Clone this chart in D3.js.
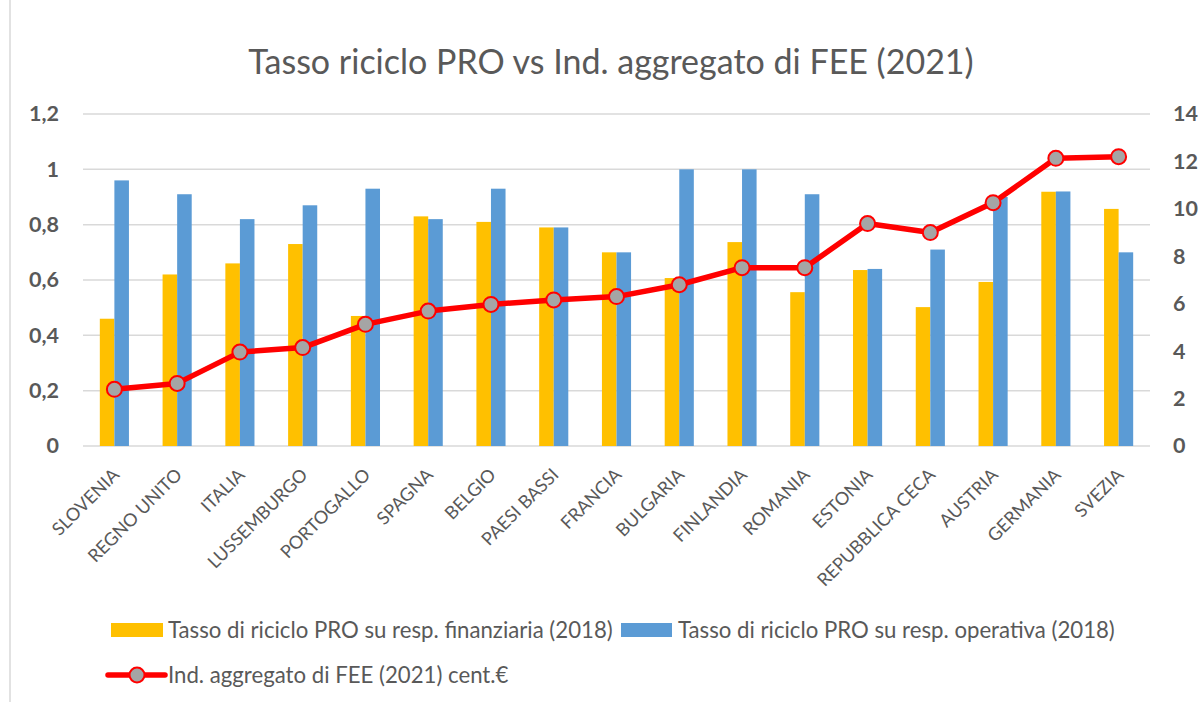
<!DOCTYPE html>
<html><head><meta charset="utf-8">
<script src="https://cdn.jsdelivr.net/npm/d3@7"></script>
<style>body{margin:0;background:#fff}svg{display:block}</style>
</head><body>
<svg id="c" width="1200" height="702"></svg>
<script>
const categories = ["SLOVENIA","REGNO UNITO","ITALIA","LUSSEMBURGO","PORTOGALLO","SPAGNA","BELGIO","PAESI BASSI","FRANCIA","BULGARIA","FINLANDIA","ROMANIA","ESTONIA","REPUBBLICA CECA","AUSTRIA","GERMANIA","SVEZIA"];
const finanziaria = [0.46,0.62,0.66,0.73,0.47,0.83,0.81,0.79,0.70,0.607,0.737,0.556,0.636,0.502,0.593,0.919,0.857];
const operativa   = [0.96,0.91,0.82,0.87,0.93,0.82,0.93,0.79,0.70,1.0,1.0,0.91,0.64,0.71,0.90,0.92,0.70];
const fee = [2.39,2.64,3.96,4.15,5.13,5.69,5.97,6.16,6.30,6.80,7.52,7.52,9.38,9.0,10.26,12.13,12.2];
const leftTicks = [0,0.2,0.4,0.6,0.8,1,1.2];
const rightTicks = [0,2,4,6,8,10,12,14];
const seriesNames = ["Tasso di riciclo PRO su resp. finanziaria (2018)","Tasso di riciclo PRO su resp. operativa (2018)","Ind. aggregato di FEE (2021) cent.€"];
const title = "Tasso riciclo PRO vs Ind. aggregato di FEE (2021)";

const svg = d3.select("#c");
const font = "Lato, 'Open Sans', sans-serif";
const grey = "#595959";
const yellow = "#FFC000", blue = "#5B9BD5", red = "#FF0000", markerFill = "#A5A5A5";

const x0 = 83, x1 = 1150, yTop = 114, yBot = 446;
const x = d3.scaleBand().domain(categories).range([x0, x1]).paddingInner(0).paddingOuter(0);
const yL = d3.scaleLinear().domain([0,1.2]).range([yBot, yTop]);
const yR = d3.scaleLinear().domain([0,14]).range([yBot, yTop]);
const barW = x.bandwidth()*0.232;

// frame
svg.append("line").attr("x1",10).attr("x2",10).attr("y1",0).attr("y2",702).attr("stroke","#d9d9d9").attr("stroke-width",1.5);

// title
svg.append("text").attr("x",611).attr("y",74).attr("text-anchor","middle")
  .attr("font-family",font).attr("font-size",34).attr("fill",grey).text(title);

// gridlines
svg.append("g").selectAll("line").data(leftTicks).join("line")
  .attr("x1",x0).attr("x2",x1).attr("y1",d=>yL(d)).attr("y2",d=>yL(d))
  .attr("stroke","#d9d9d9").attr("stroke-width",1.5);

// left axis
const fmt = d => String(d).replace(".",",");
const gL = svg.append("g").attr("transform",`translate(${x0},0)`)
  .call(d3.axisLeft(yL).tickValues(leftTicks).tickFormat(fmt).tickSize(0).tickPadding(24));
gL.select(".domain").remove();
gL.selectAll("text").attr("font-family",font).attr("font-size",21.5).attr("font-weight","bold").attr("fill",grey);

const gR = svg.append("g").attr("transform",`translate(${x1},0)`)
  .call(d3.axisRight(yR).tickValues(rightTicks).tickSize(0).tickPadding(23));
gR.select(".domain").remove();
gR.selectAll("text").attr("font-family",font).attr("font-size",21.5).attr("font-weight","bold").attr("fill",grey);

// bars
const cx = c => x(c) + x.bandwidth()/2;
svg.append("g").selectAll("rect").data(categories).join("rect")
  .attr("x",c=>cx(c)-barW).attr("width",barW)
  .attr("y",(c,i)=>yL(finanziaria[i])).attr("height",(c,i)=>yBot-yL(finanziaria[i]))
  .attr("fill",yellow);
svg.append("g").selectAll("rect").data(categories).join("rect")
  .attr("x",c=>cx(c)).attr("width",barW)
  .attr("y",(c,i)=>yL(operativa[i])).attr("height",(c,i)=>yBot-yL(operativa[i]))
  .attr("fill",blue);

// x labels
const gX = svg.append("g").attr("transform",`translate(0,${yBot})`)
  .call(d3.axisBottom(x).tickSize(0).tickPadding(0));
gX.select(".domain").remove();
gX.selectAll("text").attr("font-family",font).attr("font-size",18).attr("fill",grey)
  .attr("text-anchor","end").attr("dy","0")
  .attr("transform","translate(6,30) rotate(-45)");

// line
const line = d3.line().x((d,i)=>cx(categories[i])).y(d=>yR(d));
svg.append("path").datum(fee).attr("d",line).attr("fill","none").attr("stroke",red)
  .attr("stroke-width",5.5).attr("stroke-linejoin","round");
svg.append("g").selectAll("circle").data(fee).join("circle")
  .attr("cx",(d,i)=>cx(categories[i])).attr("cy",d=>yR(d)).attr("r",7.5)
  .attr("fill",markerFill).attr("stroke",red).attr("stroke-width",2);

// legend
const lg = svg.append("g").attr("font-family",font).attr("font-size",22.2).attr("fill",grey);
lg.append("rect").attr("x",111).attr("y",623).attr("width",52).attr("height",14).attr("fill",yellow);
lg.append("text").attr("x",168).attr("y",638).text(seriesNames[0]);
lg.append("rect").attr("x",621).attr("y",623).attr("width",51).attr("height",14).attr("fill",blue);
lg.append("text").attr("x",678).attr("y",638).text(seriesNames[1]);
lg.append("line").attr("x1",108).attr("x2",165).attr("y1",675).attr("y2",675).attr("stroke",red).attr("stroke-width",5.5).attr("stroke-linecap","round");
lg.append("circle").attr("cx",137).attr("cy",675).attr("r",7.5).attr("fill",markerFill).attr("stroke",red).attr("stroke-width",2);
lg.append("text").attr("x",168).attr("y",683).text(seriesNames[2]);
</script>
</body></html>
